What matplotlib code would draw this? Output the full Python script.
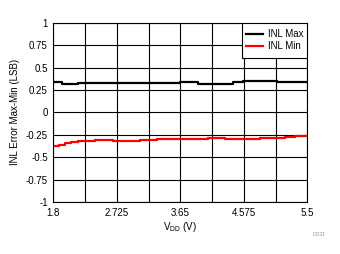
import matplotlib
matplotlib.use("Agg")
import matplotlib.pyplot as plt
from matplotlib.patches import Rectangle

plt.rcParams['font.family'] = ['Liberation Sans', 'DejaVu Sans']

# step breakpoints (V), last point closes at 5.5 V
vdd_max = [1.8, 1.92, 2.16, 3.646, 3.912, 4.422, 4.568, 5.054, 5.5]
inl_max = [0.335, 0.316, 0.327, 0.335, 0.32, 0.338, 0.353, 0.342, 0.342]

vdd_min = [1.8, 1.887, 1.97, 2.053, 2.164, 2.287, 2.407, 2.674, 3.063,
           3.306, 4.058, 4.30, 4.81, 5.175, 5.32, 5.5]
inl_min = [-0.376, -0.361, -0.346, -0.335, -0.324, -0.316, -0.305, -0.316,
           -0.309, -0.298, -0.283, -0.298, -0.287, -0.276, -0.261, -0.261]

xticks = [1.8, 2.725, 3.65, 4.575, 5.5]
yticks = [-1, -0.75, -0.5, -0.25, 0, 0.25, 0.5, 0.75, 1]

fig = plt.figure(figsize=(3.4, 2.54), dpi=100)
ax = fig.add_axes([0.157, 0.2047, 0.747, 0.706])

ax.plot(vdd_max, inl_max, drawstyle='steps-post', color='black', lw=1.6, label='INL Max')
ax.plot(vdd_min, inl_min, drawstyle='steps-post', color='red', lw=1.6, label='INL Min')

ax.set_xlim(1.8, 5.5)
ax.set_ylim(-1, 1)
ax.set_xticks(xticks)
ax.set_xticklabels([str(t) for t in xticks])
ax.set_xticks([1.8 + i * 0.4625 for i in range(9)], minor=True)
ax.set_yticks(yticks)
ax.set_yticklabels([str(t) for t in yticks])
ax.grid(True, which='both', color='black', lw=0.8)
ax.tick_params(which='both', length=0, labelsize=7, pad=4)
for s in ax.spines.values():
    s.set_linewidth(0.8)

ax.set_xlabel('V$_{\\mathregular{DD}}$ (V)', fontsize=7, labelpad=2)
ax.set_ylabel('INL Error Max-Min (LSB)', fontsize=7, labelpad=4)

# legend box: white rectangle in the upper right, legend entries centred in it
box = (0.743, 0.803, 0.257, 0.197)
ax.add_patch(Rectangle(box[:2], box[2], box[3], transform=ax.transAxes,
                       facecolor='white', edgecolor='black', lw=0.8, zorder=4))
leg = ax.legend(loc='center', bbox_to_anchor=box, fontsize=7, frameon=False,
                borderaxespad=0, borderpad=0, handlelength=1.8,
                handletextpad=0.5, labelspacing=0.2)
leg.set_zorder(5)

fig.text(0.92, 0.072, 'D021', fontsize=4, color='#999999')

fig.savefig('out.png', dpi=100)
